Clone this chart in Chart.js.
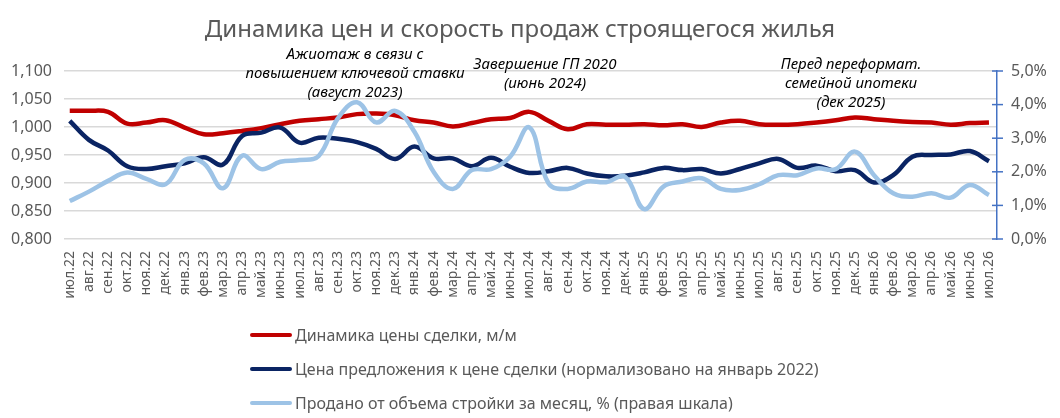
<!DOCTYPE html>
<html>
<head>
<meta charset="utf-8">
<script src="https://cdn.jsdelivr.net/npm/chart.js@4"></script>
<style>
  body { margin: 0; background: #fff; }
  #wrap { position: relative; width: 1060px; height: 418px; }
  #legend { position: absolute; left: 250px; top: 318px; font: 16px "Noto Sans", sans-serif; color: #595959; }
  #legend div { height: 34px; line-height: 34px; display: flex; align-items: center; }
  #legend span.sw { display: inline-block; width: 42px; height: 4px; border-radius: 2px; margin-right: 3px; }
</style>
</head>
<body>
<div id="wrap">
  <canvas id="c" width="1060" height="418"></canvas>
  <div id="legend"></div>
</div>
<script>
window.addEventListener("load", function(){

  const months = ['июл.22','авг.22','сен.22','окт.22','ноя.22','дек.22','янв.23','фев.23','мар.23','апр.23',
    'май.23','июн.23','июл.23','авг.23','сен.23','окт.23','ноя.23','дек.23','янв.24','фев.24',
    'мар.24','апр.24','май.24','июн.24','июл.24','авг.24','сен.24','окт.24','ноя.24','дек.24',
    'янв.25','фев.25','мар.25','апр.25','май.25','июн.25','июл.25','авг.25','сен.25','окт.25',
    'ноя.25','дек.25','янв.26','фев.26','мар.26','апр.26','май.26','июн.26','июл.26'];

  // динамика цены сделки, м/м
  const dealPrice = [1.029, 1.029, 1.027, 1.006, 1.008, 1.012, 0.999, 0.987, 0.989, 0.993,
    0.998, 1.005, 1.011, 1.014, 1.017, 1.023, 1.024, 1.021, 1.012, 1.008,
    1.001, 1.007, 1.014, 1.016, 1.027, 1.011, 0.996, 1.005, 1.004, 1.004,
    1.005, 1.003, 1.005, 1.000, 1.008, 1.011, 1.005, 1.004, 1.005, 1.008,
    1.012, 1.017, 1.014, 1.011, 1.009, 1.008, 1.004, 1.007, 1.008];

  // цена предложения к цене сделки
  const offerRatio = [1.011, 0.977, 0.958, 0.930, 0.925, 0.930, 0.935, 0.946, 0.933, 0.984,
    0.990, 0.999, 0.972, 0.981, 0.979, 0.973, 0.961, 0.943, 0.965, 0.944,
    0.944, 0.930, 0.945, 0.929, 0.918, 0.921, 0.927, 0.917, 0.912, 0.913,
    0.919, 0.927, 0.923, 0.925, 0.917, 0.925, 0.935, 0.943, 0.927, 0.931,
    0.921, 0.923, 0.901, 0.914, 0.947, 0.950, 0.951, 0.957, 0.939];

  // продано от объема стройки за месяц, %
  const soldShare = [1.13, 1.41, 1.73, 1.98, 1.79, 1.63, 2.35, 2.25, 1.51, 2.48,
    2.08, 2.30, 2.35, 2.47, 3.59, 4.07, 3.47, 3.81, 3.19, 2.00,
    1.49, 2.05, 2.08, 2.45, 3.32, 1.66, 1.49, 1.71, 1.69, 1.85,
    0.89, 1.56, 1.71, 1.81, 1.49, 1.46, 1.63, 1.90, 1.90, 2.10,
    2.08, 2.60, 1.90, 1.36, 1.26, 1.36, 1.23, 1.61, 1.31];

  const names = ['Динамика цены сделки, м/м',
    'Цена предложения к цене сделки (нормализовано на январь 2022)',
    'Продано от объема стройки за месяц, % (правая шкала)'];
  const colours = ['#C00000', '#0A2463', '#9DC3E6'];

  const notes = [
    { x: 355, y: 55, lines: ['Ажиотаж в связи с', 'повышением ключевой ставки', '(август 2023)'] },
    { x: 545, y: 65, lines: ['Завершение ГП 2020', '(июнь 2024)'] },
    { x: 851, y: 65, lines: ['Перед переформат.', 'семейной ипотеки', '(дек 2025)'] }
  ];

  const grey = '#595959';
  const fontFam = '"Noto Sans", sans-serif';

  const textPlugin = {
    id: 'texts',
    afterDraw(chart) {
      const ctx = chart.ctx;
      ctx.save();
      ctx.fillStyle = grey;
      ctx.font = '24px ' + fontFam;
      ctx.textAlign = 'center';
      ctx.textBaseline = 'middle';
      ctx.fillText('Динамика цен и скорость продаж строящегося жилья', 520, 30);
      ctx.fillStyle = '#000';
      ctx.font = 'italic 15px ' + fontFam;
      notes.forEach(n => {
        n.lines.forEach((l, i) => ctx.fillText(l, n.x, n.y + i * 19));
      });
      // tick marks on the right axis cross the line
      const s = chart.scales.y1;
      ctx.strokeStyle = '#4472C4';
      ctx.lineWidth = 1.5;
      s.ticks.forEach(t => {
        const py = s.getPixelForValue(t.value);
        ctx.beginPath();
        ctx.moveTo(s.left - 5, py);
        ctx.lineTo(s.left + 6, py);
        ctx.stroke();
      });
      ctx.restore();
    }
  };

  const ds = (data, i, axis) => ({
    label: names[i],
    data: data,
    yAxisID: axis,
    borderColor: colours[i],
    backgroundColor: colours[i],
    borderWidth: 4.5,
    pointRadius: 0,
    tension: 0.4,
    order: 3 - i
  });

  new Chart(document.getElementById('c'), {
    type: 'line',
    data: {
      labels: months.map((m, i) => i),
      datasets: [ds(dealPrice, 0, 'y'), ds(offerRatio, 1, 'y'), ds(soldShare, 2, 'y1')]
    },
    options: {
      responsive: false,
      animation: false,
      layout: { padding: { top: 71, bottom: 104, left: 0, right: 0 } },
      plugins: { legend: { display: false }, tooltip: { enabled: false } },
      scales: {
        x: {
          type: 'linear',
          min: -0.3,
          max: 48.42,
          afterBuildTicks: (s) => { s.ticks = months.map((m, i) => ({ value: i })); },
          afterFit: (s) => { s.height = 75; },
          grid: { display: false },
          border: { display: false },
          ticks: {
            autoSkip: false, minRotation: 90, maxRotation: 90, padding: 4,
            color: grey, font: { family: fontFam, size: 14 },
            callback: (v) => months[v]
          }
        },
        y: {
          position: 'left',
          min: 0.8, max: 1.1,
          afterFit: (s) => { s.width = 64; },
          afterBuildTicks: (s) => { s.ticks = [0.8, 0.85, 0.9, 0.95, 1.0, 1.05, 1.1].map(v => ({ value: v })); },
          grid: { color: '#D9D9D9', lineWidth: 1.5, drawTicks: false },
          border: { display: false },
          ticks: {
            padding: 12, color: grey, font: { family: fontFam, size: 16 },
            callback: (v) => v.toFixed(3).replace('.', ',')
          }
        },
        y1: {
          position: 'right',
          min: 0, max: 5,
          afterFit: (s) => { s.width = 63; },
          grid: { drawOnChartArea: false, drawTicks: false },
          border: { color: '#4472C4', width: 1.5 },
          ticks: {
            stepSize: 1, padding: 14, color: grey, font: { family: fontFam, size: 16 },
            callback: (v) => v.toFixed(1).replace('.', ',') + '%'
          }
        }
      }
    },
    plugins: [textPlugin]
  });

  const lg = document.getElementById('legend');
  names.forEach((n, i) => {
    const row = document.createElement('div');
    row.innerHTML = '<span class="sw" style="background:' + colours[i] + '"></span>' + n;
    lg.appendChild(row);
  });

});
</script>
</body>
</html>
